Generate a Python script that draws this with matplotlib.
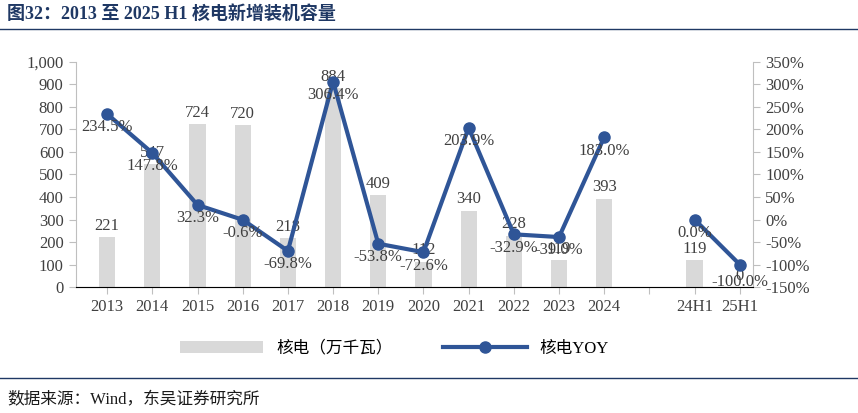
import numpy as np
import matplotlib.pyplot as plt
from matplotlib.ticker import FuncFormatter

plt.rcParams['font.family'] = ['Liberation Serif', 'Noto Sans CJK SC']

labels = ['2013', '2014', '2015', '2016', '2017', '2018', '2019', '2020', '2021', '2022', '2023', '2024', '', '24H1', '25H1']
cap = [221, 547, 724, 720, 218, 884, 409, 112, 340, 228, 119, 393, np.nan, 119, 0]
yoy = [234.5, 147.8, 32.3, -0.6, -69.8, 306.4, -53.8, -72.6, 203.9, -32.9, -39.0, 183.0, np.nan, 0.0, -100.0]

x = np.arange(len(labels))
fig = plt.figure(figsize=(8.58, 4.13), dpi=100)
ax = fig.add_axes([0.088, 0.305, 0.79, 0.545])
ax2 = ax.twinx()

ax.bar(x, cap, width=0.36, color='#d9d9d9', label='核电（万千瓦）')
for xi, v in zip(x, cap):
    if not np.isnan(v):
        ax.text(xi, v + 15, f'{v:.0f}', ha='center', va='bottom', fontsize=12, color='#404040')
ax.set_ylim(0, 1000)
ax.set_yticks(range(0, 1001, 100))
ax.yaxis.set_major_formatter(FuncFormatter(lambda v, p: f'{v:,.0f}'))
ax.set_xlim(-0.7, 14.3)
ax.set_xticks(x)
ax.set_xticklabels(labels)

ax2.plot(x[:12], yoy[:12], color='#2f5597', lw=3, marker='o', ms=8)
ax2.plot(x[13:], yoy[13:], color='#2f5597', lw=3, marker='o', ms=8, label='核电YOY')
for xi, v in zip(x, yoy):
    if not np.isnan(v):
        dy = -22 if xi == 14 else -12
        ax2.text(xi, v + dy, f'{v:.1f}%', ha='center', va='top', fontsize=12, color='#404040')
ax2.set_ylim(-150, 350)
ax2.set_yticks(range(-150, 351, 50))
ax2.yaxis.set_major_formatter(FuncFormatter(lambda v, p: f'{v:.0f}%'))

for a in (ax, ax2):
    for s in ['top', 'right', 'left']:
        a.spines[s].set_visible(False)
    a.tick_params(labelsize=12, colors='#404040', length=0)
ax.spines['bottom'].set_color('#bfbfbf')
ax.tick_params(axis='x', length=5, color='#bfbfbf', direction='out')
ax2.tick_params(axis='y', length=5, color='#bfbfbf')
ax2.spines['right'].set_visible(True)
ax2.spines['right'].set_color('#bfbfbf')
ax.spines['left'].set_visible(True)
ax.spines['left'].set_color('#bfbfbf')
ax.tick_params(axis='y', length=5, color='#bfbfbf')

h1, l1 = ax.get_legend_handles_labels()
h2, l2 = ax2.get_legend_handles_labels()
fig.legend(h1 + h2, l1 + l2, loc='lower center', bbox_to_anchor=(0.46, 0.1), ncol=2,
           frameon=False, fontsize=12, handlelength=5, columnspacing=3)

fig.text(0.008, 0.955, '图32：2013 至 2025 H1 核电新增装机容量', fontsize=13, fontweight='bold', color='#1f3864')
fig.add_artist(plt.Line2D([0, 1], [0.93, 0.93], color='#1f3864', lw=1))
fig.add_artist(plt.Line2D([0, 1], [0.085, 0.085], color='#1f3864', lw=1))
fig.text(0.008, 0.02, '数据来源：Wind，东吴证券研究所', fontsize=12, color='#1a1a1a')

fig.savefig('out.png', dpi=100)
